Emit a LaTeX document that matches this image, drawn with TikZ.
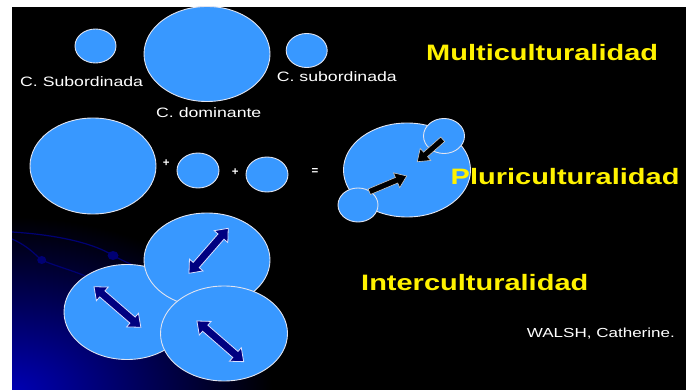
\documentclass[tikz,border=0pt]{standalone}
\usepackage{fontspec}
\setmainfont{Liberation Sans}
\newfontfamily\widefont[FakeStretch=1.3]{Liberation Sans}
\usetikzlibrary{shapes.geometric}
\definecolor{cfill}{RGB}{56,152,255}
\definecolor{cedge}{RGB}{225,228,240}
\definecolor{navy}{RGB}{0,0,128}
\definecolor{deco}{RGB}{0,0,115}
\definecolor{glow}{RGB}{0,0,180}
\newcommand\singlearrow[4]{\draw[#4, shift={#1}, rotate=#2] (0,-3) -- ({#3-11},-3) -- ({#3-11},-8) -- (#3,0) -- ({#3-11},8) -- ({#3-11},3) -- (0,3) -- cycle;}
\newcommand\doublearrow[4]{\draw[#4, shift={#1}, rotate=#2] (0,0) -- (11,-9) -- (11,-4) -- ({#3-11},-4) -- ({#3-11},-9) -- (#3,0) -- ({#3-11},9) -- ({#3-11},4) -- (11,4) -- (11,9) -- cycle;}
\begin{document}
\begin{tikzpicture}[x=1pt,y=-1pt,
  circ/.style={ellipse, draw=cedge, line width=0.9pt, fill=cfill, inner sep=0pt},
  esz/.style 2 args={minimum width=#1pt, minimum height=#2pt},
  lbl/.style={text=white, font=\widefont\fontsize{13.6}{15}\selectfont, anchor=base west, inner sep=0pt},
  ttl/.style={text=yellow, font=\widefont\bfseries\fontsize{22.3}{24}\selectfont, anchor=base west, inner sep=0pt},
  sym/.style={text=white, font=\bfseries\fontsize{11.5}{12}\selectfont, inner sep=0pt},
  parrow/.style={fill=black, draw={rgb,255:red,200;green,200;blue,200}, line width=0.6pt, line join=miter},
  iarrow/.style={fill=navy, draw={rgb,255:red,220;green,225;blue,255}, line width=0.8pt, line join=miter},
  decoline/.style={draw=deco, line width=1.2pt}
  ]
\useasboundingbox (0,0) rectangle (686,390);
% background
\fill[white] (0,0) rectangle (686,390);
\fill[black] (12,7) rectangle (686,390);
\begin{scope}
  \clip (12,7) rectangle (686,390);
  \shade[inner color=glow, outer color=black] (12,392) ellipse (260 and 175);
  \draw[decoline] (12,232) .. controls (60,235) and (95,244) .. (113,255.5) .. controls (125,262) and (135,266) .. (150,272);
  \draw[decoline] (12,239) .. controls (30,247) and (36,256) .. (41.7,260) .. controls (55,266) and (72,270) .. (90,278);
  \fill[deco] (113,255.5) ellipse (5.5 and 4.5);
  \fill[deco] (41.7,260) ellipse (4.5 and 4);
\end{scope}
% Multiculturalidad
\node[circ, esz={41}{34}] (s1) at (95.5,46) {};
\node[circ, esz={126}{95}] (dom) at (207,54) {};
\node[circ, esz={41}{34}] (s2) at (306.7,50.5) {};
\node[lbl] (lsub1) at (20,86.7) {C. Subordinada};
\node[lbl] (lsub2) at (276.7,81.7) {C. subordinada};
\node[lbl] (ldom) at (156,117.5) {C. dominante};
\node[ttl] (tmulti) at (426,61) {Multiculturalidad};
% Pluriculturalidad
\node[circ, esz={126}{96}] (p1) at (93,166) {};
\node[sym] (plus1) at (166.2,162.7) {+};
\node[circ, esz={42}{35}] (p2) at (198,170.5) {};
\node[sym] (plus2) at (235.3,171.7) {+};
\node[circ, esz={42}{35}] (p3) at (267,174.5) {};
\node[sym] (eq) at (315,171.7) {=};
\node[circ, esz={127}{94}] (pb) at (407,170) {};
\node[circ, esz={41}{35}] (pt) at (444,136) {};
\node[circ, esz={40}{34}] (pl) at (358,205) {};
\singlearrow{(442.7,139.3)}{-138.6}{33.9}{parrow}
\singlearrow{(369.3,191.7)}{22.8}{40.6}{parrow}
\node[ttl] (tpluri) at (450.5,184.5) {Pluriculturalidad};
% Interculturalidad
\node[circ, esz={126}{95}] (il) at (127,312) {};
\node[circ, esz={126}{94}] (itop) at (207,260) {};
\node[circ, esz={127}{95}] (ibot) at (224,333.5) {};
\doublearrow{(189,273.3)}{48.9}{59.7}{iarrow}
\doublearrow{(94,286.7)}{-40.9}{62.0}{iarrow}
\doublearrow{(196.9,321)}{-41.0}{62.0}{iarrow}
\node[ttl] (tinter) at (361,290.5) {Interculturalidad};
\node[lbl, font=\widefont\fontsize{13.1}{15}\selectfont] (walsh) at (526.7,337.3) {WALSH, Catherine.};
\end{tikzpicture}
\end{document}
